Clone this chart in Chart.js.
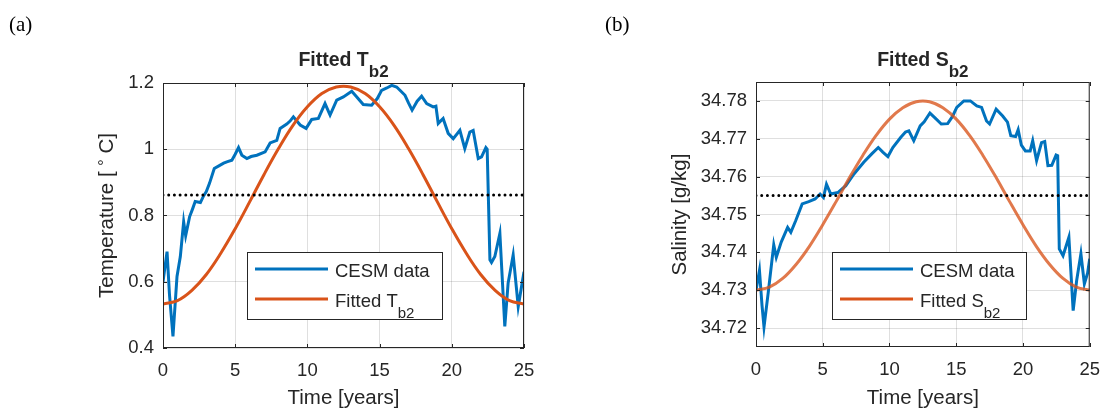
<!DOCTYPE html>
<html>
<head>
<meta charset="utf-8">
<script src="https://cdn.jsdelivr.net/npm/chart.js@4.4.1/dist/chart.umd.min.js"></script>
<style>
  body { margin: 0; background: #fff; }
  #wrap { position: relative; width: 1112px; height: 409px; overflow: hidden; }
  .panel { position: absolute; top: 0; width: 556px; height: 409px; }
</style>
</head>
<body>
<div id="wrap">
  <canvas class="panel" id="tempChart" width="556" height="409" style="left:0"></canvas>
  <canvas class="panel" id="saltChart" width="556" height="409" style="left:556px"></canvas>
</div>
<script>
// time axis
const yearTicks = [0, 5, 10, 15, 20, 25];
const fitYears = [0, 1, 2, 3, 4, 5, 6, 7, 8, 9, 10, 11, 12, 13, 14, 15, 16, 17, 18, 19, 20, 21, 22, 23, 24, 25];

// (a) bottom temperature
const tempTicks = [0.4, 0.6, 0.8, 1, 1.2];
const tempYears = [0, 0.28, 0.45, 0.69, 0.97, 1.2, 1.43, 1.57, 1.84, 2.05, 2.23, 2.59, 2.81, 3.0, 3.22,
  3.55, 3.96, 4.2, 4.42, 4.77, 5.0, 5.23, 5.46, 5.81, 6.1, 6.5, 7.07, 7.42, 7.88, 8.11, 8.57, 8.8,
  9.03, 9.5, 9.91, 10.3, 10.76, 11.22, 11.57, 12.03, 12.49, 13.07, 13.42, 13.87, 14.45, 14.84, 15.14,
  15.5, 15.84, 16.18, 16.41, 16.76, 17.0, 17.25, 17.6, 17.91, 18.26, 18.71, 18.9, 19.06, 19.4, 19.75,
  20.1, 20.56, 20.9, 21.25, 21.48, 21.83, 22.06, 22.36, 22.45, 22.64, 22.75, 22.98, 23.33, 23.67,
  23.9, 24.25, 24.6, 25];
const tempCesm = [0.600, 0.691, 0.560, 0.435, 0.616, 0.676, 0.781, 0.739, 0.796, 0.820, 0.842, 0.839,
  0.859, 0.872, 0.897, 0.942, 0.952, 0.958, 0.962, 0.967, 0.985, 1.005, 0.982, 0.972, 0.978, 0.982,
  0.992, 1.019, 1.027, 1.063, 1.076, 1.085, 1.098, 1.073, 1.063, 1.090, 1.093, 1.138, 1.103, 1.148,
  1.158, 1.175, 1.158, 1.135, 1.133, 1.153, 1.178, 1.185, 1.193, 1.188, 1.178, 1.163, 1.140, 1.118,
  1.145, 1.160, 1.138, 1.128, 1.130, 1.078, 1.093, 1.048, 1.032, 1.057, 1.002, 1.052, 1.057, 0.972,
  0.977, 1.005, 1.000, 0.666, 0.658, 0.676, 0.746, 0.465, 0.596, 0.681, 0.525, 0.630];
const tempFit = [0.533, 0.543, 0.574, 0.622, 0.686, 0.760, 0.841, 0.924, 1.002, 1.072, 1.128, 1.168,
  1.188, 1.188, 1.168, 1.128, 1.072, 1.002, 0.924, 0.841, 0.760, 0.686, 0.622, 0.574, 0.543, 0.533];
const tempMean = 0.862;

// (b) bottom salinity
const saltTicks = [34.72, 34.73, 34.74, 34.75, 34.76, 34.77, 34.78];
const saltYears = [0, 0.26, 0.45, 0.6, 0.92, 1.33, 1.52, 1.89, 2.37, 2.61, 2.98, 3.46, 3.95, 4.43, 4.8,
  5.05, 5.28, 5.6, 6.13, 6.73, 7.34, 8.07, 8.67, 9.16, 9.5, 9.88, 10.25, 10.85, 11.2, 11.45, 11.82,
  12.3, 12.6, 13.03, 13.39, 13.88, 14.36, 14.72, 15.04, 15.57, 16.06, 16.54, 16.9, 17.27, 17.5, 17.99,
  18.48, 18.84, 19.09, 19.45, 19.64, 19.88, 20.18, 20.54, 20.73, 21.02, 21.39, 21.63, 21.87, 22.16,
  22.48, 22.6, 22.72, 23.0, 23.44, 23.76, 24.02, 24.34, 24.6, 24.84, 25];
const saltCesm = [34.7299, 34.7352, 34.7260, 34.7203, 34.7295, 34.7420, 34.7387, 34.7427, 34.7466,
  34.7453, 34.7484, 34.7528, 34.7534, 34.7541, 34.7554, 34.7545, 34.7580, 34.7554, 34.7558, 34.7576,
  34.7607, 34.7638, 34.7660, 34.7677, 34.7665, 34.7653, 34.7677, 34.7704, 34.7718, 34.7721, 34.7695,
  34.7734, 34.7745, 34.7768, 34.7756, 34.7739, 34.7740, 34.7759, 34.7783, 34.7800, 34.7800, 34.7787,
  34.7783, 34.7747, 34.7739, 34.7778, 34.7760, 34.7744, 34.7708, 34.7706, 34.7724, 34.7683, 34.7668,
  34.7668, 34.7695, 34.7642, 34.7690, 34.7693, 34.7629, 34.7630, 34.7657, 34.7655, 34.7409, 34.7391,
  34.7440, 34.7246, 34.7325, 34.7396, 34.7317, 34.7345, 34.7383];
const saltFit = [34.7300, 34.7308, 34.7331, 34.7368, 34.7416, 34.7473, 34.7534, 34.7597, 34.7656,
  34.7709, 34.7752, 34.7782, 34.7798, 34.7798, 34.7782, 34.7752, 34.7709, 34.7656, 34.7597, 34.7534,
  34.7473, 34.7416, 34.7368, 34.7331, 34.7308, 34.7300];
const saltMean = 34.755;

const SANS = "'Liberation Sans', Arial, sans-serif";
const INK = "#262626";
const BLUE = "#0072BD";

const pts = (xs, ys) => xs.map((x, i) => ({ x, y: ys[i] }));

// draw a run of text pieces (for subscripts) starting at x
function richWidth(ctx, parts) {
  let w = 0;
  parts.forEach((p) => { ctx.font = p.font; w += ctx.measureText(p.text).width; });
  return w;
}
function drawRich(ctx, parts, x, y, center) {
  let cx = center ? x - richWidth(ctx, parts) / 2 : x;
  parts.forEach((p) => {
    ctx.font = p.font;
    ctx.fillText(p.text, cx, y + (p.dy || 0));
    cx += ctx.measureText(p.text).width;
  });
}

// axes box, inward ticks, legend, titles
const panelDecor = {
  id: "panelDecor",
  afterDatasetsDraw(chart, args, o) {
    const { ctx, chartArea: a, scales } = chart;
    ctx.save();
    ctx.strokeStyle = INK;
    ctx.lineWidth = 1;
    ctx.strokeRect(a.left + 0.5, a.top + 0.5, a.right - a.left - 1, a.bottom - a.top - 1);
    ctx.beginPath();
    scales.x.ticks.forEach((t) => {
      const px = Math.round(scales.x.getPixelForValue(t.value)) + 0.5;
      ctx.moveTo(px, a.bottom); ctx.lineTo(px, a.bottom - 4);
      ctx.moveTo(px, a.top); ctx.lineTo(px, a.top + 4);
    });
    scales.y.ticks.forEach((t) => {
      const py = Math.round(scales.y.getPixelForValue(t.value)) + 0.5;
      ctx.moveTo(a.left, py); ctx.lineTo(a.left + 4, py);
      ctx.moveTo(a.right, py); ctx.lineTo(a.right - 4, py);
    });
    ctx.stroke();

    // legend
    const L = o.legend;
    ctx.fillStyle = "#fff";
    ctx.fillRect(L.left, L.top, L.right - L.left, L.bottom - L.top);
    ctx.strokeRect(L.left + 0.5, L.top + 0.5, L.right - L.left, L.bottom - L.top);
    ctx.lineWidth = 3;
    L.rows.forEach((r, i) => {
      const ly = L.top + 17 + i * 30;
      ctx.strokeStyle = r.color;
      ctx.beginPath();
      ctx.moveTo(L.left + 8, ly);
      ctx.lineTo(L.left + 81, ly);
      ctx.stroke();
      ctx.fillStyle = INK;
      ctx.textAlign = "left";
      ctx.textBaseline = "alphabetic";
      drawRich(ctx, r.parts, L.left + 88, ly + 7.5, false);
    });
    ctx.restore();
  },
  afterDraw(chart, args, o) {
    const { ctx, chartArea: a } = chart;
    const cx = (a.left + a.right) / 2;
    const cy = (a.top + a.bottom) / 2;
    ctx.save();
    ctx.fillStyle = INK;
    ctx.textAlign = "left";
    ctx.textBaseline = "alphabetic";
    drawRich(ctx, o.title, cx, 66, true);
    drawRich(ctx, [{ text: "Time [years]", font: "20.5px " + SANS }], cx, 404, true);
    ctx.save();
    ctx.translate(o.yTitleX, cy);
    ctx.rotate(-Math.PI / 2);
    drawRich(ctx, o.yTitle, 0, 0, true);
    ctx.restore();
    ctx.fillStyle = "#000";
    ctx.font = "21px 'Liberation Serif', 'DejaVu Serif', serif";
    ctx.fillText(o.letter, o.letterX, 31);
    ctx.restore();
  },
};

function makePanel(id, cfg) {
  const scaleFont = { family: SANS, size: 18.5 };
  return new Chart(document.getElementById(id), {
    type: "line",
    data: {
      datasets: [
        {
          label: "CESM data",
          data: pts(cfg.years, cfg.cesm),
          borderColor: BLUE,
          borderWidth: 3,
          pointRadius: 0,
          tension: 0,
          order: 3,
        },
        {
          label: "Fitted",
          data: pts(fitYears, cfg.fit),
          borderColor: cfg.fitColor,
          borderWidth: 3,
          pointRadius: 0,
          tension: 0.4,
          order: 2,
        },
        {
          label: "mean",
          data: pts([0, 25], [cfg.mean, cfg.mean]),
          borderColor: "#000",
          borderWidth: 3,
          borderDash: [0, 5.7],
          borderCapStyle: "round",
          pointRadius: 0,
          order: 1,
        },
      ],
    },
    options: {
      responsive: false,
      animation: false,
      devicePixelRatio: 1,
      layout: { padding: { left: 0, right: cfg.padRight, top: cfg.top, bottom: 0 } },
      plugins: {
        legend: { display: false },
        tooltip: { enabled: false },
        panelDecor: cfg.decor,
      },
      scales: {
        x: {
          type: "linear",
          min: 0,
          max: 25,
          afterBuildTicks: (s) => { s.ticks = yearTicks.map((v) => ({ value: v })); },
          afterFit: (s) => { s.height = 409 - cfg.bottom; },
          grid: { color: "rgba(38,38,38,0.15)", drawTicks: false },
          border: { display: false },
          ticks: { color: INK, font: scaleFont, padding: 12, maxRotation: 0 },
        },
        y: {
          min: cfg.yMin,
          max: cfg.yMax,
          afterBuildTicks: (s) => { s.ticks = cfg.ticks.map((v) => ({ value: v })); },
          afterFit: (s) => { s.width = cfg.left; },
          grid: { color: "rgba(38,38,38,0.15)", drawTicks: false },
          border: { display: false },
          ticks: {
            color: INK,
            font: scaleFont,
            padding: 9,
            callback: (v) => cfg.fmt(v),
          },
        },
      },
    },
    plugins: [panelDecor],
  });
}

makePanel("tempChart", {
  years: tempYears, cesm: tempCesm, fit: tempFit, mean: tempMean,
  fitColor: "#D95319",
  yMin: 0.4, yMax: 1.2, ticks: tempTicks,
  fmt: (v) => String(Number(v.toFixed(1))),
  left: 163, padRight: 32, top: 83, bottom: 348,
  decor: {
    letter: "(a)", letterX: 9, yTitleX: 112.5,
    title: [
      { text: "Fitted T", font: "bold 19.5px " + SANS },
      { text: "b2", font: "bold 17px " + SANS, dy: 10.5 },
    ],
    yTitle: [
      { text: "Temperature [ ", font: "20.5px " + SANS },
      { text: "°", font: "16px " + SANS, dy: -3 },
      { text: " C]", font: "20.5px " + SANS },
    ],
    legend: {
      left: 247, top: 252, right: 442, bottom: 319,
      rows: [
        { color: BLUE, parts: [{ text: "CESM data", font: "18.5px " + SANS }] },
        { color: "#D95319", parts: [
          { text: "Fitted T", font: "18.5px " + SANS },
          { text: "b2", font: "15px " + SANS, dy: 11 },
        ] },
      ],
    },
  },
});

makePanel("saltChart", {
  years: saltYears, cesm: saltCesm, fit: saltFit, mean: saltMean,
  fitColor: "rgba(217,83,25,0.78)",
  yMin: 34.715, yMax: 34.785, ticks: saltTicks,
  fmt: (v) => v.toFixed(2),
  left: 200, padRight: 12, top: 82, bottom: 347,
  decor: {
    letter: "(b)", letterX: 49, yTitleX: 129.5,
    title: [
      { text: "Fitted S", font: "bold 19.5px " + SANS },
      { text: "b2", font: "bold 17px " + SANS, dy: 10.5 },
    ],
    yTitle: [{ text: "Salinity [g/kg]", font: "20.5px " + SANS }],
    legend: {
      left: 276, top: 252, right: 470, bottom: 319,
      rows: [
        { color: BLUE, parts: [{ text: "CESM data", font: "18.5px " + SANS }] },
        { color: "#D95319", parts: [
          { text: "Fitted S", font: "18.5px " + SANS },
          { text: "b2", font: "15px " + SANS, dy: 11 },
        ] },
      ],
    },
  },
});
</script>
</body>
</html>
